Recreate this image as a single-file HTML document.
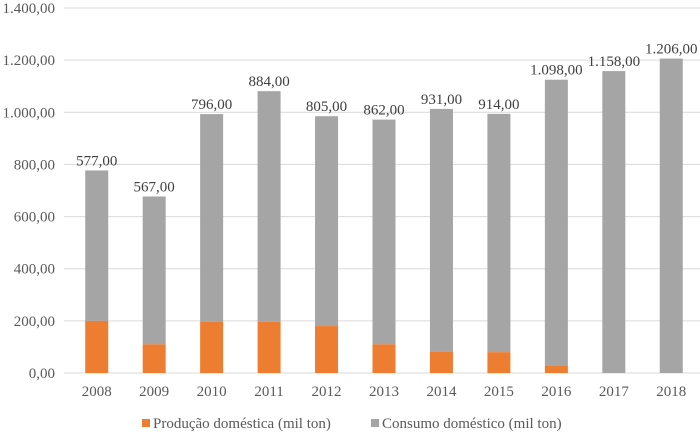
<!DOCTYPE html>
<html><head><meta charset="utf-8"><style>
html,body{margin:0;padding:0;background:#fff;}
svg{display:block;font-family:"Liberation Serif","Times New Roman",serif;}
</style></head><body>
<svg id="chart" width="700" height="433" viewBox="0 0 700 433">
<g id="grid"></g>
<g id="yaxis"></g>
<g id="bars"></g>
<g id="xaxis"></g>
<g>
  <rect x="142" y="419" width="8" height="8" fill="#ed7d31"/>
  <text x="153" y="428" font-size="15" fill="#595959">Produção doméstica (mil ton)</text>
  <rect x="371" y="419" width="8" height="8" fill="#a5a5a5"/>
  <text x="382" y="428" font-size="15" fill="#595959">Consumo doméstico (mil ton)</text>
</g>
</svg>
<script>
const categories = ["2008","2009","2010","2011","2012","2013","2014","2015","2016","2017","2018"];
const producao = [200,110,197,197,180,110,82,80,27,0,0];
const consumo = [577,567,796,884,805,862,931,914,1098,1158,1206];
const consumoLabels = ["577,00","567,00","796,00","884,00","805,00","862,00","931,00","914,00","1.098,00","1.158,00","1.206,00"];
const yTicks = [0,200,400,600,800,1000,1200,1400];
const yTickLabels = ["0,00","200,00","400,00","600,00","800,00","1.000,00","1.200,00","1.400,00"];

const NS = "http://www.w3.org/2000/svg";
const plotL = 68, plotR = 700, y0 = 373, yTop = 8, yMax = 1400;
const gridL = 64;
const y = v => y0 - (v / yMax) * (y0 - yTop);
const band = (plotR - plotL) / categories.length;
const xc = i => plotL + band * (i + 0.5);
const barW = 23;
function mk(tag, attrs, parent) {
  const e = document.createElementNS(NS, tag);
  for (const k in attrs) e.setAttribute(k, attrs[k]);
  parent.appendChild(e);
  return e;
}
const grid = document.getElementById('grid'), yaxis = document.getElementById('yaxis');
yTicks.forEach((t, i) => {
  const l = mk('line', {x1: gridL, x2: plotR, y1: y(t), y2: y(t), stroke: '#d9d9d9', 'stroke-width': 1}, grid);
  
  
  const tx = mk('text', {x: 55, y: y(t) + 5, 'text-anchor': 'end', 'font-size': 15, fill: '#595959'}, yaxis);
  tx.textContent = yTickLabels[i];
  
  
});
const bars = document.getElementById('bars'), xaxis = document.getElementById('xaxis');
categories.forEach((c, i) => {
  const x = xc(i) - barW / 2;
  const p = producao[i], s = consumo[i];
  const rc = mk('rect', {x: x, y: y(p + s), width: barW, height: y(p) - y(p + s), fill: '#a5a5a5'}, bars);
  
  
  const rp = mk('rect', {x: x, y: y(p), width: barW, height: y0 - y(p), fill: '#ed7d31'}, bars);
  
  
  const lb = mk('text', {x: xc(i), y: y(p + s) - 5, 'text-anchor': 'middle', 'font-size': 15, fill: '#404040'}, bars);
  lb.textContent = consumoLabels[i];
  
  
  const xl = mk('text', {x: xc(i), y: 396, 'text-anchor': 'middle', 'font-size': 15, fill: '#595959'}, xaxis);
  xl.textContent = c;
  
  
});
</script>
</body></html>
